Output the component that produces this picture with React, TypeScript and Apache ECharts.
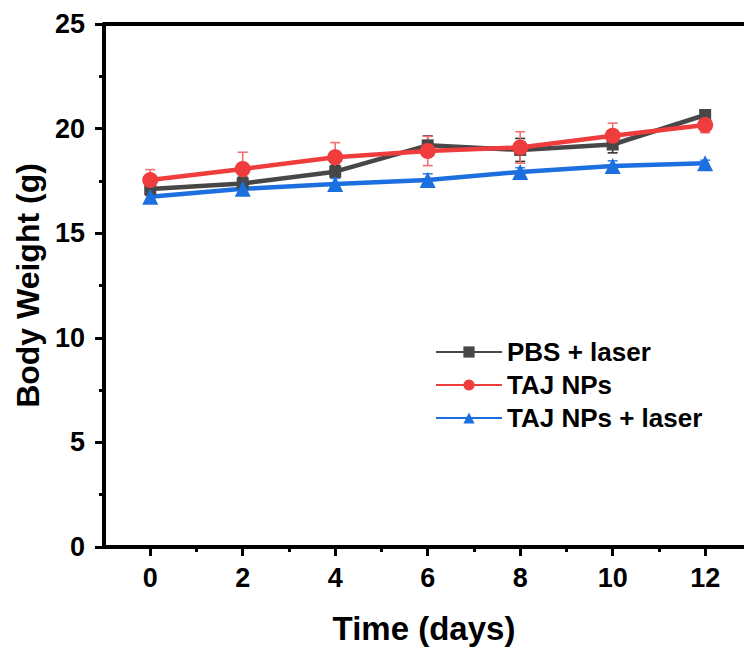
import React, { useEffect, useRef } from "react";
import * as echarts from "echarts";

const days = [0, 2, 4, 6, 8, 10, 12];
const seriesNames = ["PBS + laser", "TAJ NPs", "TAJ NPs + laser"];
const pbsMean = [17.11, 17.38, 17.94, 19.2, 18.98, 19.24, 20.65];
const pbsErr = [0.3, 0.3, 0.3, 0.45, 0.55, 0.4, 0.2];
const tajMean = [17.54, 18.07, 18.63, 18.93, 19.1, 19.66, 20.17];
const tajErr = [0.5, 0.8, 0.7, 0.7, 0.75, 0.6, 0.37];
const tajLaserMean = [16.74, 17.12, 17.35, 17.54, 17.93, 18.21, 18.34];
const tajLaserErr = [0.25, 0.2, 0.27, 0.3, 0.2, 0.25, 0.15];
const xMajorTicks = [0, 2, 4, 6, 8, 10, 12];
const xMinorTicks = [1, 3, 5, 7, 9, 11];

const colors = ["#474747", "#ef3d3d", "#1c6fdf"];
const errColors = ["#333333", "#f07272", "#3a82e6"];
const FONT = "'Liberation Sans', Arial, Helvetica, sans-serif";
const X_MIN = -1;
const X_MAX = 12.84;

function errSeries(name: string, means: number[], errs: number[], color: string) {
  return {
    type: "custom",
    name,
    xAxisIndex: 0,
    yAxisIndex: 0,
    z: 1,
    silent: true,
    encode: { x: 0, y: 1 },
    data: days.map((d, i) => [d, means[i], errs[i]]),
    renderItem: (params: any, api: any) => {
      const x = api.value(0);
      const y = api.value(1);
      const e = api.value(2);
      const top = api.coord([x, y + e]);
      const bot = api.coord([x, y - e]);
      const hw = 5;
      const st = { stroke: color, lineWidth: 1.6 };
      return {
        type: "group",
        children: [
          { type: "line", shape: { x1: top[0], y1: top[1], x2: bot[0], y2: bot[1] }, style: st },
          { type: "line", shape: { x1: top[0] - hw, y1: top[1], x2: top[0] + hw, y2: top[1] }, style: st },
          { type: "line", shape: { x1: bot[0] - hw, y1: bot[1], x2: bot[0] + hw, y2: bot[1] }, style: st },
        ],
      };
    },
  };
}

function lineSeries(name: string, means: number[], color: string, symbol: string, size: number) {
  return {
    type: "line",
    name,
    xAxisIndex: 0,
    yAxisIndex: 0,
    z: 3,
    data: days.map((d, i) => [d, means[i]]),
    symbol,
    symbolSize: size,
    itemStyle: { color },
    lineStyle: { color, width: 4.5 },
  };
}

export default function App() {
  const ref = useRef<HTMLDivElement>(null);
  useEffect(() => {
    if (!ref.current) return;
    const chart = echarts.init(ref.current, undefined, { renderer: "svg" });
    const axisLineStyle = { color: "#000", width: 4 };
    const tickLabel = { fontSize: 27, fontWeight: "bold", color: "#000", fontFamily: FONT };
    chart.setOption({
      animation: false,
      backgroundColor: "#fff",
      textStyle: { fontFamily: FONT },
      grid: { left: 104, top: 24, right: 0, height: 523, containLabel: false, outerBoundsMode: "none" },
      legend: {
        data: seriesNames,
        orient: "vertical",
        left: 430,
        top: 334,
        itemWidth: 66,
        itemHeight: 14,
        itemGap: 7,
        textStyle: { fontSize: 26, fontWeight: "bold", color: "#000", fontFamily: FONT, lineHeight: 26 },
      },
      xAxis: [
        {
          type: "value",
          gridIndex: 0,
          position: "bottom",
          min: X_MIN,
          max: X_MAX,
          splitLine: { show: false },
          axisLine: { show: true, onZero: false, lineStyle: axisLineStyle },
          axisTick: { show: true, customValues: xMajorTicks, length: 9, lineStyle: { color: "#000", width: 3 } },
          axisLabel: { customValues: xMajorTicks, margin: 17, ...tickLabel },
          name: "Time (days)",
          nameLocation: "middle",
          nameGap: 65,
          nameTextStyle: { fontSize: 33, fontWeight: "bold", color: "#000", fontFamily: FONT },
        },
        {
          type: "value",
          gridIndex: 0,
          position: "bottom",
          min: X_MIN,
          max: X_MAX,
          splitLine: { show: false },
          axisLine: { show: false, onZero: false },
          axisTick: { show: true, customValues: xMinorTicks, length: 5, lineStyle: { color: "#000", width: 3 } },
          axisLabel: { show: false },
        },
        {
          type: "value",
          gridIndex: 0,
          position: "top",
          min: X_MIN,
          max: X_MAX,
          splitLine: { show: false },
          axisLine: { show: true, onZero: false, lineStyle: axisLineStyle },
          axisTick: { show: false },
          axisLabel: { show: false },
        },
      ],
      yAxis: [
        {
          type: "value",
          gridIndex: 0,
          min: 0,
          max: 25,
          interval: 5,
          splitLine: { show: false },
          axisLine: { show: true, onZero: false, lineStyle: axisLineStyle },
          axisTick: { show: true, length: 9, lineStyle: { color: "#000", width: 3 } },
          minorTick: { show: true, splitNumber: 2, length: 5, lineStyle: { color: "#000", width: 3 } },
          minorSplitLine: { show: false },
          axisLabel: { margin: 19, ...tickLabel },
          name: "Body Weight (g)",
          nameLocation: "middle",
          nameGap: 60,
          nameTextStyle: { fontSize: 32, fontWeight: "bold", color: "#000", fontFamily: FONT },
        },
      ],
      series: [
        errSeries("err0", pbsMean, pbsErr, errColors[0]),
        errSeries("err1", tajMean, tajErr, errColors[1]),
        errSeries("err2", tajLaserMean, tajLaserErr, errColors[2]),
        lineSeries(seriesNames[0], pbsMean, colors[0], "rect", 12),
        lineSeries(seriesNames[1], tajMean, colors[1], "circle", 16),
        lineSeries(seriesNames[2], tajLaserMean, colors[2], "triangle", 16),
      ],
    });
    return () => chart.dispose();
  }, []);
  return (
    <div
      ref={ref}
      style={{ position: "fixed", left: 0, top: 0, width: 744, height: 652, background: "#fff" }}
    />
  );
}
